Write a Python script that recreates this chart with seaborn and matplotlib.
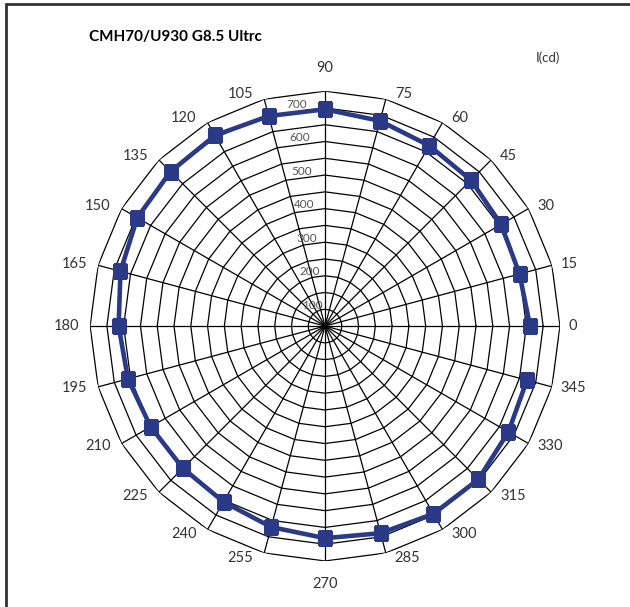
import numpy as np
import pandas as pd
import matplotlib
matplotlib.use("Agg")
import matplotlib.pyplot as plt
import seaborn as sns

# Dados: intensidade luminosa (cd) por angulo
angulos = [0, 15, 30, 45, 60, 75, 90, 105, 120, 135, 150, 165,
           180, 195, 210, 225, 240, 255, 270, 285, 300, 315, 330, 345]
intensidade = [611, 600, 606, 615, 621, 633, 646, 648, 656, 651, 646, 631,
               615, 608, 600, 599, 605, 620, 632, 639, 646, 646, 631, 623]
aneis = list(range(50, 701, 50))
rotulos_raio = [100, 200, 300, 400, 500, 600, 700]
titulo = "CMH70/U930 G8.5 Ultrc"

sns.set_theme(style="white")
plt.rcParams["font.family"] = ["Lato", "DejaVu Sans"]

cor = "#2a3a87"
px = 0.72  # pixels -> pontos (dpi 100)

fig = plt.figure(figsize=(6.3, 6.07), dpi=100)
ax = fig.add_axes([0.1429, 0.0758, 0.746, 0.774], projection="polar")
ax.set_ylim(0, 700)
ax.grid(False)
ax.set_xticks([])
ax.set_yticks([])
ax.spines["polar"].set_visible(False)
ax.set_facecolor("none")

theta = np.deg2rad(np.array(angulos + [angulos[0]]))

# grade poligonal
for r in aneis:
    ax.plot(theta, [r] * len(theta), color="black", lw=0.9, zorder=1)
for a in theta[:-1]:
    ax.plot([a, a], [0, 700], color="black", lw=0.9, zorder=1)

# curva
df = pd.DataFrame({"theta": theta, "cd": intensidade + [intensidade[0]]})
sns.lineplot(data=df, x="theta", y="cd", ax=ax, sort=False, color=cor,
             lw=3.3, marker="s", markersize=10, markeredgecolor=cor,
             zorder=3)
ax.set_xlabel("")
ax.set_ylabel("")

# rotulos dos angulos (ao lado do vertice externo)
for a in angulos:
    c, s = np.cos(np.deg2rad(a)), np.sin(np.deg2rad(a))
    if abs(c) < 0.01:
        ha, dx, dy = "center", 0, 23 * np.sign(s)
    elif c > 0:
        ha, dx, dy = "left", 9, 5 * s
    else:
        ha, dx, dy = "right", -11, 5 * s
    ax.annotate(str(a), xy=(np.deg2rad(a), 700), xytext=(dx * px, dy * px),
                textcoords="offset points", ha=ha, va="center",
                fontsize=10.5, color="#333333", annotation_clip=False)

# rotulos radiais
for v in rotulos_raio:
    dx = -(13 + (v - 100) * 0.025) * px
    ax.annotate(str(v), xy=(np.pi / 2, v), xytext=(dx, -13 * px),
                textcoords="offset points", ha="center", va="center",
                fontsize=8.5, color="#555555", zorder=2)

fig.text(89 / 630, 1 - 37 / 607, titulo, fontsize=11, fontweight="bold",
         ha="left", va="center", color="black")
fig.text(548 / 630, 1 - 58 / 607, "I(cd)", fontsize=9.5, ha="center",
         va="center", color="#333333")

# moldura (topo e esquerda)
fig.add_artist(plt.Line2D([6 / 630, 1], [1 - 4 / 607, 1 - 4 / 607],
                          color="#333333", lw=2, transform=fig.transFigure))
fig.add_artist(plt.Line2D([6 / 630, 6 / 630], [0, 1 - 4 / 607],
                          color="#333333", lw=2, transform=fig.transFigure))

fig.savefig("out.png", dpi=100, facecolor="white")
